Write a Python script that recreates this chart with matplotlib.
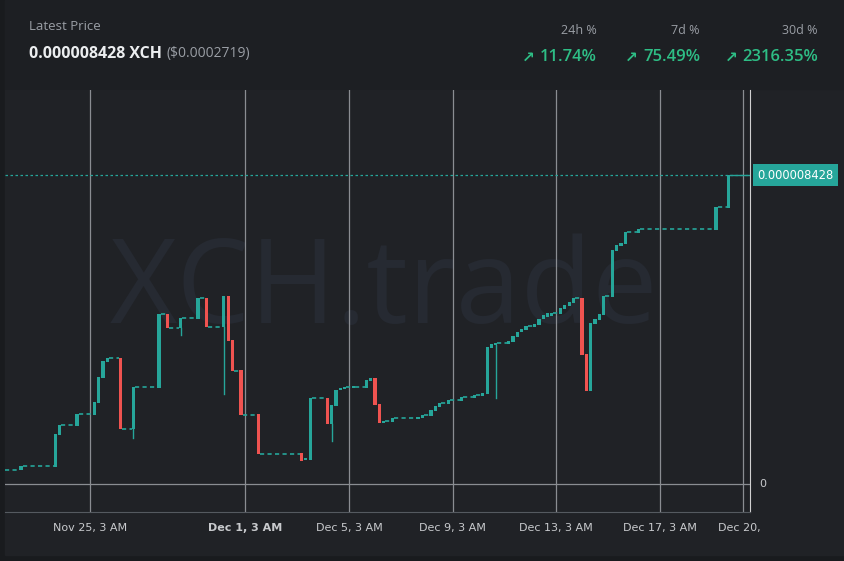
import matplotlib
matplotlib.use("Agg")
import matplotlib.pyplot as plt
from matplotlib.patches import Rectangle

# hours offset from Nov 25, 3 AM ; prices in 1e-6 XCH
t = [-64,-32,-28,-12,4,8,12,16,28,40,64,72,84,100,108,124,128,132,140,156,196,200,204,220,224,228,232,236,244,256,260,264,268,272,280,304,308,316,320,324,332,344,356,364,368,372,376,388,392,396,400,404,412,416,420,424,428,436,440,444,448,456,460,464,468,472,476,484,488,492,496,508,580,592]
o = [0.382,0.464,1.337,1.582,1.882,2.210,2.892,3.328,3.437,1.500,2.619,4.638,4.256,4.501,5.074,4.283,5.129,3.928,3.110,1.910,0.846,0.655,0.655,2.346,1.637,2.128,2.564,2.592,2.619,2.619,2.810,2.892,2.182,1.664,1.691,1.773,1.800,1.855,1.991,2.101,2.182,2.264,2.346,2.401,2.455,3.710,3.792,3.819,3.874,4.010,4.147,4.201,4.283,4.338,4.501,4.556,4.583,4.638,4.774,4.856,4.938,5.074,3.546,2.537,4.365,4.474,4.610,5.101,6.356,6.493,6.547,6.847,6.929,7.529]
c = [0.491,1.364,1.610,1.910,2.237,2.919,3.355,3.437,1.500,2.646,4.638,4.256,4.528,5.074,4.283,5.129,3.901,3.083,1.882,0.818,0.627,0.709,2.346,1.637,2.155,2.564,2.619,2.646,2.646,2.837,2.892,2.155,1.664,1.719,1.800,1.828,1.882,2.019,2.128,2.210,2.292,2.373,2.428,2.482,3.737,3.819,3.846,3.901,4.037,4.147,4.228,4.310,4.365,4.501,4.610,4.665,4.665,4.801,4.883,4.965,5.074,3.519,2.537,4.392,4.501,4.638,5.129,6.384,6.520,6.574,6.875,6.956,7.557,8.428]
wick_t = [40, 84, 124, 224, 376]
wick_low = [1.255, 4.065, 2.455, 1.173, 2.346]
tick_t = [0, 144, 240, 336, 432, 528, 605]
tick_lbl = ["Nov 25, 3 AM", "Dec 1, 3 AM", "Dec 5, 3 AM", "Dec 9, 3 AM", "Dec 13, 3 AM", "Dec 17, 3 AM", "Dec 20,"]
last_price = 8.428

GREEN = "#26a69a"; RED = "#ef5350"; BG = "#202226"
W, H = 845, 561
fig = plt.figure(figsize=(W/100, H/100), dpi=100, facecolor="#191b1e")
fig.patches.append(Rectangle((5/W, 6/H), 840/W, 555/H, transform=fig.transFigure, color=BG, zorder=-5))
fig.patches.append(Rectangle((5/W, 472/H), 840/W, 89/H, transform=fig.transFigure, color="#1d1f23", zorder=-5))

ax = fig.add_axes([5/W, (H-512)/H, 745/W, 422/H])
ax.set_zorder(2)
ax.set_facecolor(BG)
ax.set_xlim(-78.8, 611.6)
ax.set_ylim(-0.764, 10.75)
for s in ["top", "left"]:
    ax.spines[s].set_visible(False)
ax.spines["right"].set_color("#d0d0d0")
ax.spines["bottom"].set_color("#555a60")

for tt in tick_t:
    ax.axvline(tt, color="#8a8d92", lw=0.9, zorder=1)
ax.axhline(0, color="#8a8d92", lw=0.9, zorder=1)
ax.axhline(last_price, color=GREEN, lw=0.9, ls=(0, (2, 2)), zorder=2)

ax.text(0.508, 0.52, "XCH.trade", transform=ax.transAxes, ha="center", va="center",
        fontsize=84, color="#262a32", family="Open Sans", zorder=0)

ax.plot([-78.8, t[0]-1.5], [o[0], o[0]], color=GREEN, lw=1.2, ls=(0, (2.5, 2)), zorder=2)
for i in range(len(t)):
    col = GREEN if c[i] >= o[i] else RED
    lo, hi = min(o[i], c[i]), max(o[i], c[i])
    ax.add_patch(Rectangle((t[i]-1.5, lo), 3.0, max(hi-lo, 0.06), color=col, zorder=3, lw=0))
    if i+1 < len(t) and t[i+1]-t[i] > 4:
        ax.plot([t[i]+1.5, t[i+1]-1.5], [c[i], c[i]], color=GREEN, lw=1.2, ls=(0, (2.5, 2)), zorder=2)
for wt, wl in zip(wick_t, wick_low):
    i = t.index(wt)
    ax.plot([wt, wt], [wl, min(o[i], c[i])], color=GREEN if c[i] >= o[i] else RED, lw=1, zorder=3)
ax.plot([t[-1]+1.5, 611.6], [last_price, last_price], color=GREEN, lw=1, zorder=2)

ax.set_xticks(tick_t)
ax.set_xticklabels(tick_lbl)
ax.tick_params(axis="x", length=0, colors="#c8cacd", labelsize=8, pad=8)
for lbl in ax.get_xticklabels():
    if lbl.get_text().startswith("Dec 1,"):
        lbl.set_fontweight("bold")
    if lbl.get_text() == "Dec 20,":
        lbl.set_horizontalalignment("right")
        lbl.set_x(611.0)
        import matplotlib.transforms as mt
        lbl.set_transform(lbl.get_transform() + mt.ScaledTranslation(18/100, 0, fig.dpi_scale_trans))
ax.set_yticks([])

ax.text(1.012, 0, "0", transform=ax.get_yaxis_transform(), ha="left", va="center", color="#c8cacd", fontsize=8)
ax.text(1.01, last_price, "0.000008428", transform=ax.get_yaxis_transform(), ha="left", va="center",
        color="white", fontsize=8.3, bbox=dict(boxstyle="square,pad=0.4", fc=GREEN, ec="none"), clip_on=False)

# header
fig.text(29/W, 1-26/H, "Latest Price", color="#9a9ea5", fontsize=9.5, va="center", family="Open Sans")
pt = fig.text(29/W, 1-54/H, "0.000008428 XCH", color="#eceef0", fontsize=11.5, fontweight="bold", va="center", family="Open Sans")
fig.canvas.draw()
fig.text((pt.get_window_extent().x1+5)/W, 1-54/H, "($0.0002719)", color="#9a9ea5", fontsize=10, va="center", family="Open Sans")
for xr, h, v in [(818, "30d %", "2316.35%"), (700, "7d %", "75.49%"), (597, "24h %", "11.74%")]:
    fig.text(xr/W, 1-31/H, h, color="#9a9ea5", fontsize=9, ha="right", va="center", family="Open Sans")
    tx = fig.text(xr/W, 1-57/H, v, color="#2ebd85", fontsize=12, ha="right", va="center", family="Open Sans", fontweight="semibold")
    fig.canvas.draw()
    bb = tx.get_window_extent()
    fig.text((bb.x0-5)/W, 1-57/H, "↗", color="#2ebd85", fontsize=11, ha="right", va="center", fontweight="bold")

fig.savefig("out.png", dpi=100, facecolor=fig.get_facecolor())
